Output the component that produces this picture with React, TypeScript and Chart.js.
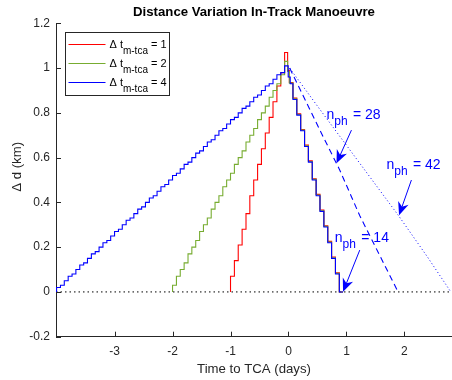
import React, { useEffect, useRef } from "react";
import { Chart, registerables } from "chart.js";
Chart.register(...registerables);

const FONT = '"Liberation Sans", Arial, Helvetica, sans-serif';
const AXIS_COLOR = "#262626";

const titleText = "Distance Variation In-Track Manoeuvre";
const xLabel = "Time to TCA (days)";
const yLabel = "\u2003\u2003\u0394 d (km)";
const xTicks = [-3, -2, -1, 0, 1, 2];
const yTicks = [-0.2, 0, 0.2, 0.4, 0.6, 0.8, 1, 1.2];
const xMin = -4.01;
const xMax = 2.82;
const yMin = -0.2;
const yMax = 1.2;

// Δt_m-tca = 1 (red)
const redX = [-1, -0.933, -0.867, -0.8, -0.733, -0.667, -0.6, -0.533, -0.467, -0.4, -0.333, -0.267, -0.2, -0.133, -0.067, -0.015, 0.015, 0.077, 0.143, 0.21, 0.277, 0.343, 0.41, 0.477, 0.543, 0.61, 0.677, 0.743, 0.81, 0.877, 0.94];
const redY = [0, 0.07, 0.14, 0.21, 0.28, 0.35, 0.43, 0.5, 0.57, 0.64, 0.71, 0.78, 0.85, 0.92, 0.98, 1.07, 0.99, 0.936, 0.866, 0.796, 0.726, 0.656, 0.586, 0.506, 0.436, 0.366, 0.296, 0.226, 0.156, 0.086, 0];

// Δt_m-tca = 2 (green)
const greenX = [-2, -1.933, -1.867, -1.8, -1.733, -1.667, -1.6, -1.533, -1.467, -1.4, -1.333, -1.267, -1.2, -1.133, -1.067, -1, -0.933, -0.867, -0.8, -0.733, -0.667, -0.6, -0.533, -0.467, -0.4, -0.333, -0.267, -0.2, -0.133, -0.067, -0.015, 0.015, 0.077, 0.143, 0.21, 0.277, 0.343, 0.41, 0.477, 0.543, 0.61, 0.677, 0.743, 0.81, 0.877, 0.94];
const greenY = [0, 0.03, 0.07, 0.1, 0.13, 0.17, 0.2, 0.23, 0.27, 0.3, 0.33, 0.37, 0.4, 0.43, 0.47, 0.5, 0.53, 0.57, 0.6, 0.63, 0.67, 0.7, 0.73, 0.77, 0.8, 0.83, 0.87, 0.9, 0.93, 0.97, 1.03, 0.985, 0.933, 0.863, 0.793, 0.723, 0.653, 0.583, 0.503, 0.433, 0.363, 0.293, 0.223, 0.153, 0.083, 0];

// Δt_m-tca = 4 (blue)
const blueX = [-4, -3.933, -3.867, -3.8, -3.733, -3.667, -3.6, -3.533, -3.467, -3.4, -3.333, -3.267, -3.2, -3.133, -3.067, -3, -2.933, -2.867, -2.8, -2.733, -2.667, -2.6, -2.533, -2.467, -2.4, -2.333, -2.267, -2.2, -2.133, -2.067, -2, -1.933, -1.867, -1.8, -1.733, -1.667, -1.6, -1.533, -1.467, -1.4, -1.333, -1.267, -1.2, -1.133, -1.067, -1, -0.933, -0.867, -0.8, -0.733, -0.667, -0.6, -0.533, -0.467, -0.4, -0.333, -0.267, -0.2, -0.133, -0.067, -0.005, 0.03, 0.077, 0.143, 0.21, 0.277, 0.343, 0.41, 0.477, 0.543, 0.61, 0.677, 0.743, 0.81, 0.877, 0.94];
const blueY = [0, 0.02, 0.03, 0.05, 0.07, 0.08, 0.1, 0.12, 0.13, 0.15, 0.17, 0.18, 0.2, 0.22, 0.23, 0.25, 0.27, 0.28, 0.3, 0.32, 0.33, 0.35, 0.37, 0.38, 0.4, 0.42, 0.43, 0.45, 0.47, 0.48, 0.5, 0.52, 0.53, 0.55, 0.57, 0.58, 0.6, 0.62, 0.63, 0.65, 0.67, 0.68, 0.7, 0.72, 0.73, 0.75, 0.77, 0.78, 0.8, 0.82, 0.83, 0.85, 0.87, 0.88, 0.9, 0.92, 0.93, 0.95, 0.97, 0.98, 1.01, 0.96, 0.93, 0.86, 0.79, 0.72, 0.65, 0.58, 0.5, 0.43, 0.36, 0.29, 0.22, 0.15, 0.08, 0];

// n_ph = 28 (dashed) and n_ph = 42 (dotted)
const ph28X = [0.02, 0.57, 0.885, 1.23, 1.89];
const ph28Y = [1.0, 0.708, 0.544, 0.34, 0.0];
const ph42X = [0.02, 0.5, 1.0, 1.4, 1.9, 2.4, 2.8];
const ph42Y = [1.0, 0.83, 0.655, 0.515, 0.34, 0.155, 0.0];

// zero reference line
const zeroX = [-4.01, 2.82];
const zeroY = [0, 0];

// legend
const legendValues = ["1", "2", "4"];
const legendColors = ["#ff0000", "#77ac30", "#0000ff"];

// annotations (data coordinates)
const annLabels = ["28", "42", "14"];
const annTextX = [0.655, 1.69, 0.798];
const annTextY = [0.772, 0.548, 0.225];
const annTailX = [1.086, 2.12, 1.229];
const annTailY = [0.723, 0.5, 0.187];
const annHeadX = [0.828, 1.907, 0.941];
const annHeadY = [0.575, 0.343, 0.001];

const pts = (xs: number[], ys: number[]) => xs.map((x, i) => ({ x, y: ys[i] }));

const overlayPlugin = {
  id: "overlay",
  afterDraw(chart: any) {
    const { ctx, chartArea } = chart;
    const xs = chart.scales.x;
    const ys = chart.scales.y;
    ctx.save();
    // inward tick marks
    ctx.strokeStyle = AXIS_COLOR;
    ctx.lineWidth = 1;
    ctx.beginPath();
    xTicks.forEach((v) => {
      const px = Math.round(xs.getPixelForValue(v)) + 0.5;
      ctx.moveTo(px, chartArea.bottom);
      ctx.lineTo(px, chartArea.bottom - 5);
    });
    yTicks.forEach((v) => {
      const py = Math.round(ys.getPixelForValue(v)) + 0.5;
      ctx.moveTo(chartArea.left, py);
      ctx.lineTo(chartArea.left + 5, py);
    });
    ctx.stroke();

    // legend
    const bx = Math.round(chartArea.left + 9) + 0.5;
    const by = Math.round(chartArea.top + 8.7) + 0.5;
    const bw = 104;
    const bh = 63;
    ctx.fillStyle = "#ffffff";
    ctx.fillRect(bx, by, bw, bh);
    ctx.strokeStyle = AXIS_COLOR;
    ctx.lineWidth = 1;
    ctx.strokeRect(bx, by, bw, bh);
    legendValues.forEach((val, i) => {
      const cy = by + 11.5 + i * 19;
      ctx.strokeStyle = legendColors[i];
      ctx.beginPath();
      ctx.moveTo(bx + 3, Math.round(cy) + 0.5);
      ctx.lineTo(bx + 40, Math.round(cy) + 0.5);
      ctx.stroke();
      ctx.fillStyle = "#000000";
      ctx.textBaseline = "alphabetic";
      ctx.textAlign = "left";
      let tx = bx + 44;
      ctx.font = `11px ${FONT}`;
      const main = "\u0394 t";
      ctx.fillText(main, tx, cy + 4);
      tx += ctx.measureText(main).width;
      ctx.font = `10px ${FONT}`;
      const sub = "m-tca";
      ctx.fillText(sub, tx, cy + 9.5);
      tx += ctx.measureText(sub).width;
      ctx.font = `11px ${FONT}`;
      ctx.fillText(" = " + val, tx, cy + 4);
    });

    // annotations
    annLabels.forEach((lab, i) => {
      const tx0 = xs.getPixelForValue(annTextX[i]);
      const ty0 = ys.getPixelForValue(annTextY[i]);
      ctx.fillStyle = "#0000ff";
      ctx.textBaseline = "alphabetic";
      ctx.textAlign = "left";
      let tx = tx0;
      ctx.font = `14px ${FONT}`;
      ctx.fillText("n", tx, ty0);
      tx += ctx.measureText("n").width;
      ctx.font = `12px ${FONT}`;
      ctx.fillText("ph", tx, ty0 + 6);
      tx += ctx.measureText("ph").width + 1.5;
      ctx.font = `14px ${FONT}`;
      ctx.fillText(" = " + lab, tx, ty0);

      const ax = xs.getPixelForValue(annTailX[i]);
      const ay = ys.getPixelForValue(annTailY[i]);
      const hx = xs.getPixelForValue(annHeadX[i]);
      const hy = ys.getPixelForValue(annHeadY[i]);
      const dx = hx - ax;
      const dy = hy - ay;
      const len = Math.hypot(dx, dy);
      const ux = dx / len;
      const uy = dy / len;
      const nx = -uy;
      const ny = ux;
      const L = 13;
      const W = 5.5;
      ctx.strokeStyle = "#0000ff";
      ctx.lineWidth = 1;
      ctx.beginPath();
      ctx.moveTo(ax, ay);
      ctx.lineTo(hx - ux * 8, hy - uy * 8);
      ctx.stroke();
      ctx.beginPath();
      ctx.moveTo(hx, hy);
      ctx.lineTo(hx - ux * L + nx * W, hy - uy * L + ny * W);
      ctx.lineTo(hx - ux * 9, hy - uy * 9);
      ctx.lineTo(hx - ux * L - nx * W, hy - uy * L - ny * W);
      ctx.closePath();
      ctx.fillStyle = "#0000ff";
      ctx.fill();
    });
    ctx.restore();
  },
};

export default function App() {
  const ref = useRef<HTMLCanvasElement>(null);
  useEffect(() => {
    const line = (data: any, color: string, extra: any = {}) => ({
      data,
      borderColor: color,
      backgroundColor: color,
      borderWidth: 1.1,
      pointRadius: 0,
      fill: false,
      tension: 0,
      ...extra,
    });
    const chart = new Chart(ref.current as HTMLCanvasElement, {
      type: "line",
      data: {
        datasets: [
          line(pts(zeroX, zeroY), "#000000", { borderDash: [1.5, 3], borderWidth: 1, order: 10 }),
          line(pts(redX, redY), legendColors[0], { stepped: "after", order: 5 }),
          line(pts(greenX, greenY), legendColors[1], { stepped: "after", order: 4 }),
          line(pts(blueX, blueY), legendColors[2], { stepped: "after", order: 3 }),
          line(pts(ph28X, ph28Y), "#0000ff", { borderDash: [6, 4], order: 2 }),
          line(pts(ph42X, ph42Y), "#0000ff", { borderDash: [1, 2.5], borderWidth: 1, order: 1 }),
        ],
      } as any,
      options: {
        animation: false,
        responsive: false,
        devicePixelRatio: 1,
        layout: { padding: 0 },
        plugins: {
          legend: { display: false },
          tooltip: { enabled: false },
          title: {
            display: true,
            text: titleText,
            color: "#000000",
            fullSize: false,
            font: { family: FONT, size: 13.2, weight: "bold", lineHeight: 1.2 },
            padding: { top: 4, bottom: 3.5 },
          },
        },
        scales: {
          x: {
            type: "linear",
            min: xMin,
            max: xMax,
            grid: { display: false, drawTicks: false },
            border: { display: true, color: AXIS_COLOR, width: 1 },
            ticks: {
              autoSkip: false,
              includeBounds: false,
              padding: 8,
              color: AXIS_COLOR,
              font: { family: FONT, size: 12 },
              callback: (v: any) => String(Math.round(Number(v) * 10) / 10),
            },
            afterBuildTicks: (s: any) => {
              s.ticks = xTicks.map((v) => ({ value: v }));
            },
            afterFit: (s: any) => {
              s.height = 43.3;
            },
            title: {
              display: true,
              text: xLabel,
              color: AXIS_COLOR,
              font: { family: FONT, size: 13.2, lineHeight: 1.2 },
              padding: { top: 0, bottom: 3.2 },
            },
          },
          y: {
            type: "linear",
            min: yMin,
            max: yMax,
            grid: { display: false, drawTicks: false },
            border: { display: true, color: AXIS_COLOR, width: 1 },
            ticks: {
              autoSkip: false,
              includeBounds: false,
              padding: 6,
              color: AXIS_COLOR,
              font: { family: FONT, size: 12 },
              callback: (v: any) => String(Math.round(Number(v) * 10) / 10),
            },
            afterBuildTicks: (s: any) => {
              s.ticks = yTicks.map((v) => ({ value: v }));
            },
            afterFit: (s: any) => {
              s.width = 56;
            },
            title: {
              display: true,
              text: yLabel,
              color: AXIS_COLOR,
              font: { family: FONT, size: 13.2, lineHeight: 1.2 },
              padding: { top: 9.5, bottom: 0 },
            },
          },
        },
      } as any,
      plugins: [overlayPlugin],
    });
    return () => chart.destroy();
  }, []);
  return (
    <div style={{ position: "absolute", left: 0, top: 0, width: 452, height: 380, background: "#ffffff" }}>
      <canvas ref={ref} width={452} height={380} style={{ display: "block", width: 452, height: 380 }} />
    </div>
  );
}
